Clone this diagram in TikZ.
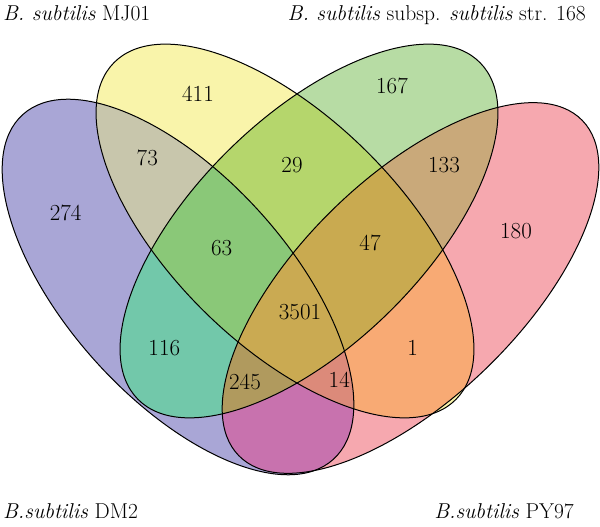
\documentclass[tikz,border=0pt]{standalone}
\definecolor{cA}{HTML}{A9A6D6}
\definecolor{cB}{HTML}{F9F4AA}
\definecolor{cC}{HTML}{B7DCA4}
\definecolor{cD}{HTML}{F6A8AF}
\definecolor{cAB}{HTML}{C8C6AC}
\definecolor{cAC}{HTML}{72C8AA}
\definecolor{cAD}{HTML}{C872AE}
\definecolor{cBC}{HTML}{B5D66C}
\definecolor{cBD}{HTML}{F8AA74}
\definecolor{cCD}{HTML}{C9A97A}
\definecolor{cABC}{HTML}{8AC878}
\definecolor{cABD}{HTML}{DC8A7A}
\definecolor{cACD}{HTML}{B09A5E}
\definecolor{cBCD}{HTML}{C9AA50}
\definecolor{cABCD}{HTML}{CAAA52}
\tikzset{
  eA/.style={rotate around={-48:(178,240)}, insert path={(178,240) ellipse [x radius=232, y radius=111]}},
  eB/.style={rotate around={-44.5:(285,296)}, insert path={(285,296) ellipse [x radius=240, y radius=114]}},
  eC/.style={rotate around={44.5:(309,296)}, insert path={(309,296) ellipse [x radius=240, y radius=114]}},
  eD/.style={rotate around={44.3:(410.5,239)}, insert path={(410.5,239) ellipse [x radius=240, y radius=110.4]}},
  outline/.style={draw=black, line width=1pt},
  num/.style={font=\fontsize{23}{27}\selectfont, inner sep=0pt},
  ttl/.style={font=\fontsize{21.5}{25}\selectfont, inner sep=0pt},
}
\begin{document}
\begin{tikzpicture}[x=1pt,y=1pt]
\useasboundingbox (0,0) rectangle (600,527);
% single sets
\fill[cA, eA];
\fill[cB, eB];
\fill[cC, eC];
\fill[cD, eD];
% pairs
\begin{scope}\clip[eA]; \fill[cAB, eB];\end{scope}
\begin{scope}\clip[eA]; \fill[cAC, eC];\end{scope}
\begin{scope}\clip[eA]; \fill[cAD, eD];\end{scope}
\begin{scope}\clip[eB]; \fill[cBC, eC];\end{scope}
\begin{scope}\clip[eB]; \fill[cBD, eD];\end{scope}
\begin{scope}\clip[eC]; \fill[cCD, eD];\end{scope}
% triples
\begin{scope}\clip[eA]; \clip[eB]; \fill[cABC, eC];\end{scope}
\begin{scope}\clip[eA]; \clip[eB]; \fill[cABD, eD];\end{scope}
\begin{scope}\clip[eA]; \clip[eC]; \fill[cACD, eD];\end{scope}
\begin{scope}\clip[eB]; \clip[eC]; \fill[cBCD, eD];\end{scope}
% all four
\begin{scope}\clip[eA]; \clip[eB]; \clip[eC]; \fill[cABCD, eD];\end{scope}
% outlines
\path[outline, eA];
\path[outline, eB];
\path[outline, eC];
\path[outline, eD];
% counts
\node[num] (n274) at (65.7,313.7) {274};
\node[num] (n73) at (147.3,368.7) {73};
\node[num] (n411) at (198,433) {411};
\node[num] (n29) at (292,362) {29};
\node[num] (n167) at (392,441) {167};
\node[num] (n133) at (444,362) {133};
\node[num] (n180) at (516,296.3) {180};
\node[num] (n63) at (221.7,278.7) {63};
\node[num] (n47) at (370,283.7) {47};
\node[num] (n3501) at (300,214.7) {3501};
\node[num] (n116) at (164.3,178.7) {116};
\node[num] (n1) at (412.7,178.7) {1};
\node[num] (n245) at (245,145.3) {245};
\node[num] (n14) at (339.3,147) {14};
% titles
\node[ttl, anchor=base west] (tMJ) at (3,506.3) {\textit{B. subtilis} MJ01};
\node[ttl, anchor=base east] (t168) at (586,506.3) {\textit{B. subtilis} subsp. \textit{subtilis} str. 168};
\node[ttl, anchor=base west] (tDM) at (3,8.7) {\textit{B.subtilis} DM2};
\node[ttl, anchor=base east] (tPY) at (574,8.7) {\textit{B.subtilis} PY97};
\end{tikzpicture}
\end{document}
